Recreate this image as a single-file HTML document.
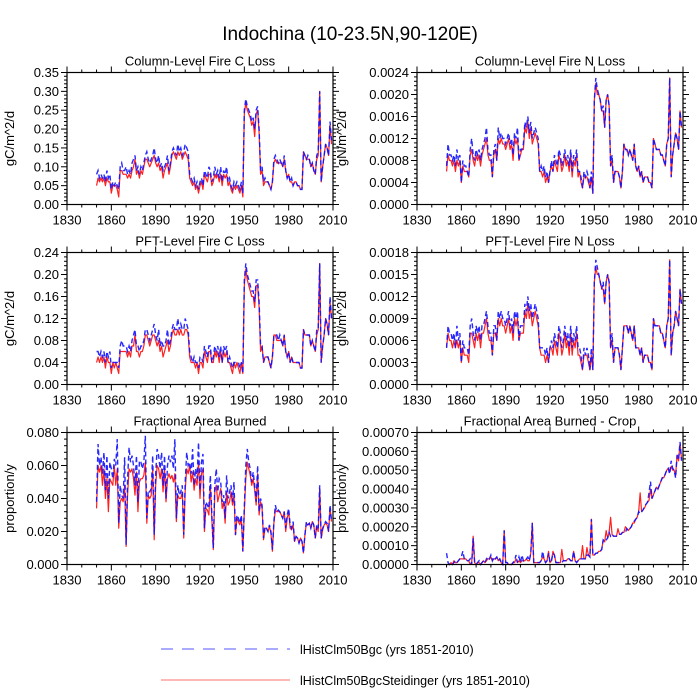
<!DOCTYPE html>
<html><head><meta charset="utf-8"><title>Indochina fire</title>
<style>
html,body{margin:0;padding:0;background:#fff;}
svg{display:block;font-family:"Liberation Sans",sans-serif;}
</style></head>
<body>
<svg id="chart" width="700" height="700" viewBox="0 0 700 700">
<text x="350" y="40" font-size="19" text-anchor="middle">Indochina (10-23.5N,90-120E)</text>
<g>
<line x1="161" y1="649" x2="290" y2="649" stroke="#5555ff" stroke-width="1" stroke-dasharray="12,9"/>
<text x="300" y="654" font-size="12.5">lHistClm50Bgc (yrs 1851-2010)</text>
<line x1="161" y1="680" x2="290" y2="680" stroke="#ff7070" stroke-width="1"/>
<text x="300" y="685" font-size="12.5">lHistClm50BgcSteidinger (yrs 1851-2010)</text>
</g>
</svg>
<script>
const startYear = 1850;
const xTicks = [1830,1860,1890,1920,1950,1980,2010];

const colCBlue = [8,9,7,8,7,8,6,9,7,8, 4,6,5,6,5,4,10,11,9,9, 10,8,9,8,11,12,13,9,10,8, 10,9,11,13,14,12,11,12,13,15, 12,11,13,10,11,9,10,11,13,9, 11,14,15,14,13,16,14,15,13,14, 16,15,14,8,7,6,7,5,6,4, 6,7,5,9,8,7,10,9,6,7, 10,8,9,7,10,6,9,8,10,6, 7,5,4,6,5,6,5,4,6,3, 25,28,26,25,24,22,23,20,25,26, 20,9,10,6,7,6,6,5,4,6, 12,13,12,11,12,11,10,13,9,7, 8,6,7,5,6,6,5,5,4,4, 14,13,12,13,12,10,11,9,8,13, 14,30,6,10,13,16,15,13,22,17];
const colCRed = [5,7,6,7,6,7,5,7,6,6, 3,5,5,5,4,2,9,9,8,8, 8,7,8,7,9,10,12,8,9,7, 9,8,10,12,12,11,10,11,12,13, 11,10,11,9,10,7,9,10,11,8, 10,13,14,13,12,14,13,14,12,13, 14,13,12,7,6,5,6,4,5,3, 5,6,4,8,7,6,8,8,5,6, 8,7,8,6,8,5,8,7,8,5, 6,4,3,5,4,5,4,3,5,2, 24,27,25,24,23,21,22,18,24,25, 19,8,9,5,6,6,6,5,4,6, 11,12,11,11,11,11,10,12,9,7, 8,6,6,5,6,6,5,5,4,4, 14,13,12,12,12,10,11,9,8,12, 13,30,6,10,13,16,15,13,21,16];
const colNBlue = [7,11,9,9,8,9,7,10,8,9, 4,8,7,7,6,5,10,12,9,8, 10,9,10,8,10,11,12,14,10,9, 9,5,10,11,8,14,12,13,12,12, 11,12,13,11,12,9,13,12,14,8, 10,10,11,15,14,16,13,15,12,13, 14,13,12,6,7,6,7,5,6,4, 6,8,6,9,8,7,10,9,7,8, 10,8,9,7,10,6,9,8,10,6, 6,5,3,6,5,6,5,3,6,2, 19,23,21,20,19,17,18,14,19,20, 18,7,9,4,6,6,6,5,3,6, 11,10,10,9,10,9,8,11,7,6, 7,5,6,4,5,5,5,4,4,3, 12,11,10,10,10,9,9,8,7,11, 12,23,5,9,11,13,12,10,17,14];
const colNRed = [6,9,8,8,7,8,6,8,7,8, 4,7,6,6,6,5,9,10,8,7, 9,8,9,7,9,10,11,12,9,8, 8,5,9,10,8,12,11,12,11,11, 10,11,12,10,11,8,12,11,12,8, 9,10,10,14,13,15,12,14,11,12, 13,12,11,6,6,5,6,4,5,4, 6,7,6,8,7,6,9,8,6,7, 9,7,8,6,9,5,8,7,9,5, 6,4,3,5,5,5,4,3,5,2, 19,22,20,20,19,17,17,14,19,20, 18,7,8,4,6,6,6,5,3,6, 11,10,10,9,10,9,8,11,7,6, 7,5,6,4,5,5,5,4,4,3, 12,11,10,10,10,9,9,8,7,11, 12,23,5,9,11,13,12,10,17,14];
const pftCBlue = [6,6,5,6,5,6,4,6,5,6, 3,4,4,4,4,3,7,8,7,7, 7,6,7,6,8,9,10,7,7,6, 7,7,8,10,10,9,8,9,10,11, 9,8,10,7,8,7,7,8,10,7, 8,10,11,10,10,12,10,11,10,10, 12,11,10,6,5,4,5,4,4,3, 5,5,4,7,6,5,7,7,4,5, 7,6,7,5,7,4,7,6,7,4, 5,4,3,4,4,4,4,3,4,2, 19,22,20,19,18,17,17,15,19,19, 15,7,7,4,5,5,5,4,3,5, 9,9,9,8,9,8,7,9,6,5, 6,4,5,4,4,4,4,4,3,3, 10,9,9,9,9,7,8,7,6,10, 10,22,4,7,9,12,11,9,16,12];
const pftCRed = [4,5,4,5,4,5,3,5,4,4, 2,4,3,4,3,2,6,6,6,6, 6,5,6,5,7,7,9,6,6,5, 6,6,7,9,9,8,7,8,9,9, 8,7,8,6,7,5,6,7,8,6, 7,9,10,9,9,10,9,10,9,9, 10,10,9,5,4,4,4,3,4,2, 4,4,3,6,5,4,6,6,4,4, 6,5,6,4,6,4,6,5,6,4, 4,3,2,4,3,4,3,2,4,2, 18,21,19,18,17,16,16,14,18,18, 14,6,7,4,5,5,5,4,3,5, 9,9,8,8,8,8,7,9,6,5, 6,4,5,4,4,4,4,4,3,3, 10,9,9,9,9,7,8,7,6,9, 10,22,4,7,9,12,11,9,15,12];
const pftNBlue = [5,8,7,7,6,7,5,8,6,7, 3,6,5,5,5,4,8,9,7,6, 8,7,8,6,8,8,9,10,8,7, 7,4,8,8,6,10,9,10,9,9, 8,9,10,8,9,7,10,9,10,6, 8,8,8,11,10,12,10,11,9,10, 11,10,9,5,5,5,5,4,5,3, 5,6,5,7,6,5,8,7,5,6, 8,6,7,5,8,5,7,6,8,5, 5,4,2,5,4,5,4,2,5,2, 14,17,16,15,14,13,14,11,14,15, 14,5,7,3,5,5,5,4,2,5, 8,8,8,7,8,7,6,8,5,5, 5,4,5,3,4,4,4,3,3,2, 9,8,8,8,8,7,7,6,5,8, 9,17,4,7,8,10,9,8,13,11];
const pftNRed = [5,7,6,6,5,6,5,6,5,6, 3,5,4,4,4,3,7,7,6,5, 7,6,7,5,7,7,8,9,7,6, 6,4,7,7,6,9,8,9,8,8, 7,8,9,7,8,6,9,8,9,6, 7,7,7,10,9,11,9,10,8,9, 10,9,8,5,4,4,4,3,4,3, 5,5,4,6,5,4,7,6,4,5, 7,5,6,4,7,4,6,5,7,4, 4,3,2,4,4,4,3,2,4,2, 14,16,15,15,14,13,13,11,14,15, 14,5,6,3,5,5,5,4,2,5, 8,8,8,7,8,7,6,8,5,5, 5,4,5,3,4,4,4,3,3,2, 9,8,8,8,8,7,7,6,5,8, 9,17,4,7,8,10,9,8,13,11];
const fabBlue = [38,73,60,65,55,68,45,66,40,62, 58,52,64,60,76,25,48,42,40,65, 12,52,71,62,66,60,48,66,38,63, 62,58,62,78,28,45,44,46,66,18, 55,70,66,58,68,48,66,40,60,66, 62,66,58,76,28,48,42,44,48,18, 50,68,60,62,55,70,48,58,52,74, 45,62,67,22,38,36,34,54,30,10, 48,58,44,52,50,38,42,28,54,40, 44,48,38,50,18,30,28,25,30,8, 35,60,70,62,58,50,56,48,38,60, 32,40,36,16,23,22,20,24,20,9, 26,36,32,33,32,30,28,32,22,30, 34,24,22,26,14,17,16,13,16,14, 7,18,26,24,25,22,26,24,16,24, 22,48,16,22,24,26,25,20,36,26];
const fabRed = [34,60,56,60,48,58,40,52,32,52, 50,48,60,48,58,22,38,40,38,48, 11,42,58,56,58,52,42,56,32,50, 52,52,54,62,25,42,40,42,58,15, 48,60,58,52,58,44,58,38,52,55, 52,54,50,55,26,42,40,40,44,16, 45,58,55,60,50,56,45,52,48,62, 40,55,58,20,34,33,30,48,28,9, 44,48,38,42,46,34,38,25,44,36, 38,44,36,42,18,28,26,24,28,8, 32,52,62,58,54,48,52,45,36,55, 30,38,34,15,22,22,20,23,19,8, 25,33,32,32,32,30,28,32,20,28, 32,22,21,24,14,17,16,13,16,14, 7,18,25,24,25,22,26,24,16,23, 20,46,16,21,24,25,24,20,34,26];
const cropBlue = [6,1,0,1,0,1,2,1,2,3, 4,7,3,3,2,2,3,0,14,1, 0,1,2,0,1,2,1,3,4,3, 5,2,4,3,4,2,3,1,0,18, 1,1,0,0,0,1,2,5,1,4, 1,5,2,3,3,4,2,6,22,1, 1,1,1,1,2,7,3,1,2,6, 1,2,6,5,1,1,1,1,1,2, 2,2,3,3,2,2,7,2,1,2, 3,3,3,3,3,5,5,4,24,5, 5,6,6,7,7,8,13,12,13,14, 17,15,16,15,15,15,15,16,16,17, 17,17,19,18,19,20,22,23,24,25, 28,27,28,29,31,32,33,38,44,35, 37,39,41,40,42,44,46,46,48,50, 51,48,55,51,50,46,58,56,65,55];
const cropRed = [0,0,0,1,0,2,1,1,2,3, 3,3,3,3,2,2,0,1,15,1, 0,1,1,0,1,2,1,2,3,3, 4,2,3,3,4,2,3,1,0,18, 1,1,0,0,0,1,1,3,1,2, 1,2,2,2,3,2,2,6,22,1, 1,1,1,1,2,4,3,1,2,7, 1,2,7,5,1,1,1,1,8,2, 2,2,3,3,2,2,7,2,1,2, 3,3,10,3,3,9,5,4,24,5, 5,6,6,7,7,8,13,12,18,14, 17,25,16,15,15,15,19,16,16,17, 17,20,19,18,19,20,22,22,24,25, 28,38,28,29,30,32,33,34,40,35, 37,39,41,40,42,44,46,46,48,50, 51,49,52,50,50,47,58,55,64,56];

const panelTitles = ["Column-Level Fire C Loss","Column-Level Fire N Loss","PFT-Level Fire C Loss","PFT-Level Fire N Loss","Fractional Area Burned","Fractional Area Burned - Crop"];
const panelUnits = ["gC/m^2/d","gN/m^2/d","gC/m^2/d","gN/m^2/d","proportion/y","proportion/y"];
const panelScale = [0.01,0.0001,0.01,0.0001,0.001,0.00001];
const panelYMax = [0.35,0.0024,0.24,0.0018,0.080,0.00070];
const panelYStep = [0.05,0.0004,0.04,0.0003,0.020,0.00010];
const panelDigits = [2,4,2,4,3,5];
const panelBlue = [colCBlue,colNBlue,pftCBlue,pftNBlue,fabBlue,cropBlue];
const panelRed = [colCRed,colNRed,pftCRed,pftNRed,fabRed,cropRed];
const panelNames = ["column-c-loss","column-n-loss","pft-c-loss","pft-n-loss","area-burned","area-burned-crop"];

const NS = "http://www.w3.org/2000/svg";
const svg = document.getElementById('chart');
function mk(tag, attrs, parent){ const e=document.createElementNS(NS,tag); for(const k in attrs) e.setAttribute(k,attrs[k]); parent.appendChild(e); return e; }

const colX = [67,417], rowY = [72.5,252.5,432.5], W = 266, H = 132;

for(let p=0;p<6;p++){
  const L = colX[p%2], T = rowY[Math.floor(p/2)], R = L+W, B = T+H;
  const g = mk('g',{},svg);
  
  
  const xs = yr => L + (yr-1830)/180*W;
  const ys = v => B - v/panelYMax[p]*H;
  const t = mk('text',{x:(L+R)/2,y:T-7,'font-size':13,'text-anchor':'middle'},g);
  t.textContent = panelTitles[p];
  
  
  const yl = mk('text',{x:0,y:0,'font-size':13,'text-anchor':'middle',transform:`translate(${L-(p%2?71:53)},${(T+B)/2}) rotate(-90)`},g);
  yl.textContent = panelUnits[p];
  
  
  const tk = mk('g',{stroke:'#000','stroke-width':1},g);
  
  
  for(let yr=1830; yr<=2010; yr+=10){
    const x = xs(yr), len = (yr%30===0)?6:3;
    mk('line',{x1:x,y1:B,x2:x,y2:B+len},tk);
    mk('line',{x1:x,y1:T,x2:x,y2:T-len},tk);
  }
  xTicks.forEach(yr=>{
    const tl = mk('text',{x:xs(yr),y:B+20,'font-size':13,'text-anchor':'middle',stroke:'none'},g);
    tl.textContent = String(yr);
    
    
  });
  const nMaj = Math.round(panelYMax[p]/panelYStep[p]);
  for(let i=0;i<=nMaj*5;i++){
    const v = panelYStep[p]*i/5, y = ys(v), len = (i%5===0)?6:3;
    mk('line',{x1:L,y1:y,x2:L-len,y2:y},tk);
    mk('line',{x1:R,y1:y,x2:R+len,y2:y},tk);
  }
  for(let i=0;i<=nMaj;i++){
    const v = panelYStep[p]*i;
    const tl = mk('text',{x:L-8,y:ys(v)+4.5,'font-size':13,'text-anchor':'end'},g);
    tl.textContent = v.toFixed(panelDigits[p]);
    
    
  }
  const pts = arr => arr.map((v,i)=>xs(startYear+i).toFixed(2)+','+ys(v*panelScale[p]).toFixed(2)).join(' ');
  const red = mk('polyline',{points:pts(panelRed[p]),fill:'none',stroke:'#ff2020','stroke-width':1.2,'stroke-linejoin':'round'},g);
  
  
  const blue = mk('polyline',{points:pts(panelBlue[p]),fill:'none',stroke:'#1010ff','stroke-width':1.4,'stroke-dasharray':'5,3','stroke-opacity':0.9},g);
  
  
  const fr = mk('rect',{x:L,y:T,width:W,height:H,fill:'none',stroke:'#000','stroke-width':1.2},g);
  
  
}
</script>
</body></html>
